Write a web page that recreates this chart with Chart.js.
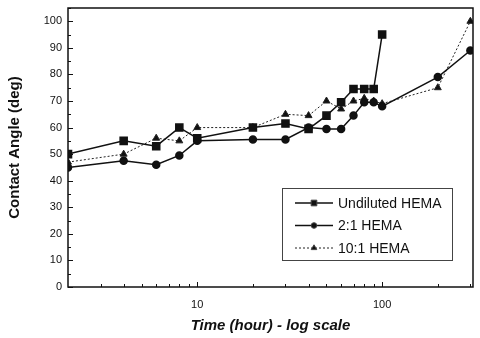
<!DOCTYPE html>
<html>
<head>
<meta charset="utf-8">
<script src="https://cdn.jsdelivr.net/npm/chart.js@4.4.1/dist/chart.umd.min.js"></script>
<style>
  html, body { margin: 0; padding: 0; background: #fff; }
  .wrap { width: 480px; height: 338px; position: relative; }
</style>
</head>
<body>
<div class="wrap"><canvas id="chart"></canvas></div>
<script>
// time in hours (log axis) and contact angle in degrees
const undilutedTime  = [2, 4, 6, 8, 10, 20, 30, 40, 50, 60, 70, 80, 90, 100];
const undilutedAngle = [50, 55, 53, 60, 56, 60, 61.5, 59.5, 64.5, 69.5, 74.5, 74.5, 74.5, 95];

const hema21Time  = [2, 4, 6, 8, 10, 20, 30, 40, 50, 60, 70, 80, 90, 100, 200, 300];
const hema21Angle = [45, 47.5, 46, 49.5, 55, 55.5, 55.5, 60, 59.5, 59.5, 64.5, 69.5, 69.5, 68, 79, 89];

const hema101Time  = [2, 4, 6, 8, 10, 20, 30, 40, 50, 60, 70, 80, 90, 100, 200, 300];
const hema101Angle = [47, 50, 56, 55, 60, 60, 65, 64.5, 70, 67, 70, 71, 70, 69, 75, 100];

const seriesNames = ['Undiluted HEMA', '2:1 HEMA', '10:1 HEMA'];
const xTickLabels = [10, 100];
const xMinorTicks = [3, 4, 5, 6, 7, 8, 9, 20, 30, 40, 50, 60, 70, 80, 90, 200, 300];
const yTickLabels = [0, 10, 20, 30, 40, 50, 60, 70, 80, 90, 100];

const FONT = 'Arial, "Liberation Sans", sans-serif';

const toPoints = (xs, ys) => xs.map((x, i) => ({ x: x, y: ys[i] }));

// inward ticks, frame and the boxed legend inside the plot
const framePlugin = {
  id: 'framePlugin',
  afterDraw(chart) {
    const ctx = chart.ctx;
    const area = chart.chartArea;
    const xs = chart.scales.x;
    const ys = chart.scales.y;
    ctx.save();
    ctx.strokeStyle = '#111';
    ctx.lineWidth = 1.5;
    ctx.strokeRect(area.left, area.top, area.right - area.left, area.bottom - area.top);

    ctx.lineWidth = 1;
    ctx.beginPath();
    for (let v = 0; v <= 105; v += 5) {
      const py = Math.round(ys.getPixelForValue(v)) + 0.5;
      const len = v % 10 === 0 ? 5 : 3;
      ctx.moveTo(area.left, py);
      ctx.lineTo(area.left + len, py);
    }
    xTickLabels.forEach(v => {
      const px = Math.round(xs.getPixelForValue(v)) + 0.5;
      ctx.moveTo(px, area.bottom);
      ctx.lineTo(px, area.bottom - 5);
    });
    xMinorTicks.forEach(v => {
      const px = Math.round(xs.getPixelForValue(v)) + 0.5;
      ctx.moveTo(px, area.bottom);
      ctx.lineTo(px, area.bottom - 3);
    });
    ctx.stroke();

    // legend
    const bx = area.right - 191, by = area.bottom - 99, bw = 170, bh = 72;
    ctx.strokeStyle = '#444';
    ctx.lineWidth = 1;
    ctx.strokeRect(bx + 0.5, by + 0.5, bw, bh);
    ctx.font = '14px ' + FONT;
    ctx.fillStyle = '#111';
    ctx.textBaseline = 'middle';
    chart.data.datasets.forEach((ds, i) => {
      const ly = by + 15 + i * 22.5;
      ctx.save();
      ctx.strokeStyle = ds.borderColor;
      ctx.lineWidth = ds.borderWidth;
      ctx.setLineDash(ds.borderDash || []);
      ctx.beginPath();
      ctx.moveTo(bx + 13, ly);
      ctx.lineTo(bx + 51, ly);
      ctx.stroke();
      ctx.restore();
      Chart.helpers.drawPoint(ctx, {
        pointStyle: ds.pointStyle,
        radius: ds.pointRadius * 0.8,
        borderWidth: 1
      }, bx + 32, ly);
      ctx.fillText(ds.label, bx + 56, ly + 1);
    });
    ctx.restore();
  }
};

new Chart(document.getElementById('chart'), {
  type: 'line',
  data: {
    datasets: [
      {
        label: seriesNames[0],
        data: toPoints(undilutedTime, undilutedAngle),
        borderColor: '#111',
        backgroundColor: '#111',
        borderWidth: 1.5,
        pointStyle: 'rect',
        pointRadius: 5,
        tension: 0
      },
      {
        label: seriesNames[1],
        data: toPoints(hema21Time, hema21Angle),
        borderColor: '#111',
        backgroundColor: '#111',
        borderWidth: 1.5,
        pointStyle: 'circle',
        pointRadius: 3.5,
        tension: 0
      },
      {
        label: seriesNames[2],
        data: toPoints(hema101Time, hema101Angle),
        borderColor: '#222',
        backgroundColor: '#111',
        borderWidth: 1,
        borderDash: [2, 2],
        pointStyle: 'triangle',
        pointRadius: 4,
        tension: 0
      }
    ]
  },
  options: {
    responsive: true,
    maintainAspectRatio: false,
    animation: false,
    layout: { padding: { top: 8, right: 7, left: 0, bottom: 0 } },
    plugins: {
      legend: { display: false },
      tooltip: { enabled: false }
    },
    scales: {
      x: {
        type: 'logarithmic',
        min: 2,
        max: 310,
        afterBuildTicks: scale => {
          scale.ticks = xTickLabels.map(v => ({ value: v }));
        },
        afterFit: scale => {
          scale.height = 51;
          scale.paddingLeft = 0;
          scale.paddingRight = 0;
        },
        grid: { display: false, drawTicks: false },
        border: { display: false },
        ticks: {
          color: '#111',
          font: { family: FONT, size: 11 },
          padding: 11,
          maxRotation: 0,
          autoSkip: false,
          callback: v => String(v)
        },
        title: {
          display: true,
          text: 'Time (hour) - log scale',
          color: '#111',
          font: { family: FONT, size: 15, weight: 'bold', style: 'italic' },
          padding: { top: 0, bottom: 3 }
        }
      },
      y: {
        min: 0,
        max: 105,
        afterBuildTicks: scale => {
          scale.ticks = yTickLabels.map(v => ({ value: v }));
        },
        afterFit: scale => {
          scale.width = 68;
          scale.paddingTop = 0;
          scale.paddingBottom = 0;
        },
        grid: { display: false, drawTicks: false },
        border: { display: false },
        ticks: {
          color: '#111',
          font: { family: FONT, size: 11 },
          padding: 6
        },
        title: {
          display: true,
          text: 'Contact Angle (deg)',
          color: '#111',
          font: { family: FONT, size: 15, weight: 'bold' },
          padding: { top: 6, bottom: 0 }
        }
      }
    }
  },
  plugins: [framePlugin]
});
</script>
</body>
</html>
